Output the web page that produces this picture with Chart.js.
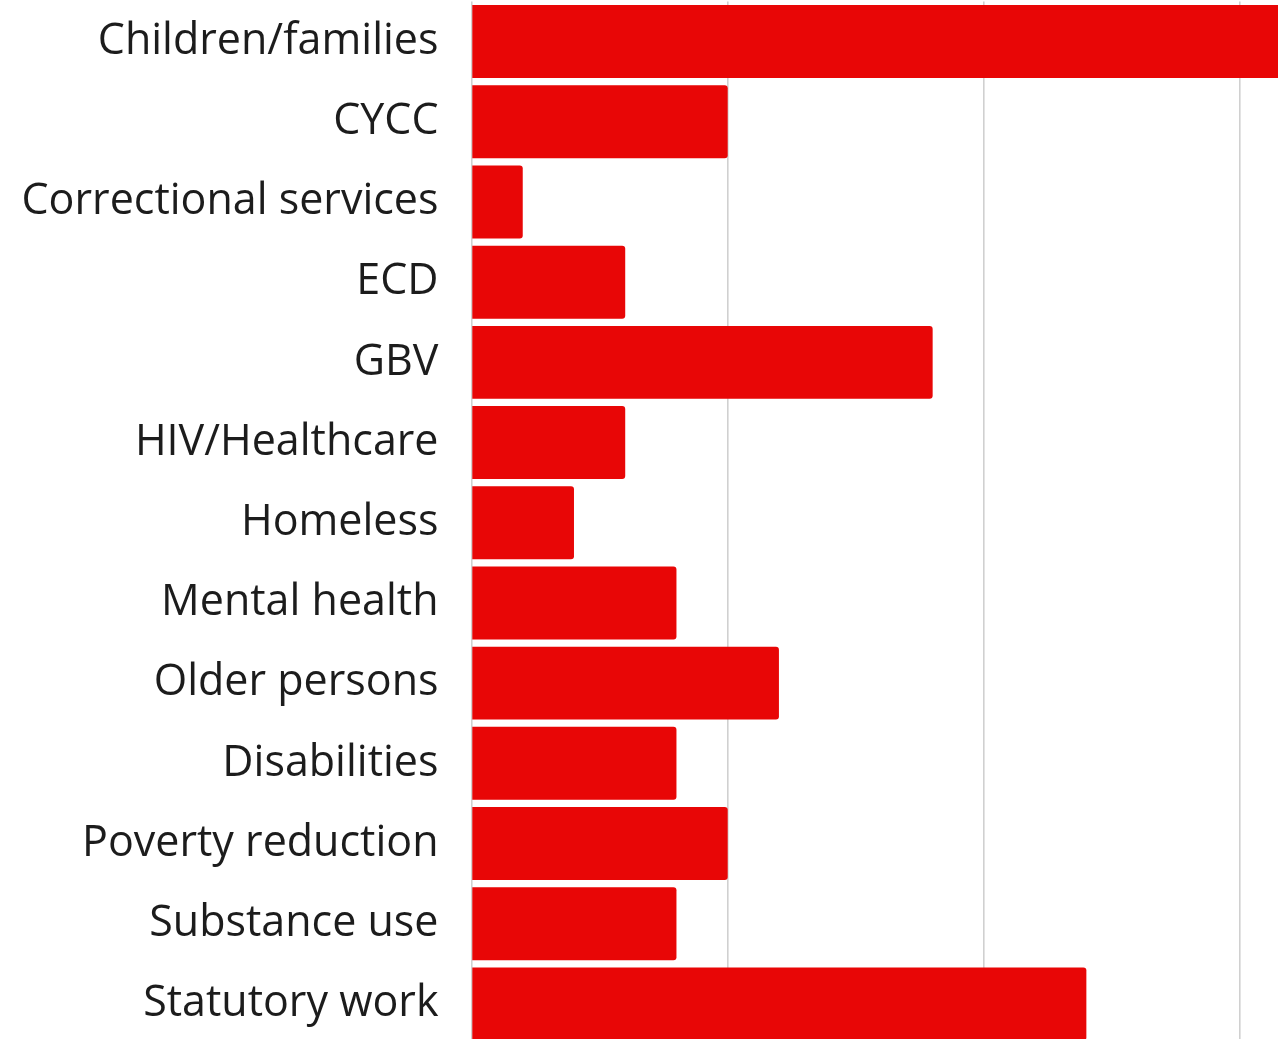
<!DOCTYPE html>
<html>
<head>
<meta charset="utf-8">
<script src="https://cdn.jsdelivr.net/npm/chart.js@4"></script>
<style>
  html, body { margin: 0; padding: 0; background: #ffffff; overflow: hidden; }
  #wrap { width: 1278px; height: 1046px; }
</style>
</head>
<body>
<div id="wrap"><canvas id="chart" width="1278" height="1046"></canvas></div>
<script>
// Service areas and number of responses per area
const categories = [
  'Children/families', 'CYCC', 'Correctional services', 'ECD', 'GBV',
  'HIV/Healthcare', 'Homeless', 'Mental health', 'Older persons',
  'Disabilities', 'Poverty reduction', 'Substance use', 'Statutory work'
];
const counts = [16, 5, 1, 3, 9, 3, 2, 4, 6, 4, 5, 4, 12];
const xTicks = [0, 5, 10, 15];

const BAR_RED = '#E80606';
const GRID_GREY = '#d0d0d0';

new Chart(document.getElementById('chart'), {
  type: 'bar',
  data: {
    labels: categories,
    datasets: [{
      data: counts,
      backgroundColor: BAR_RED,
      borderWidth: 0,
      borderRadius: 3,
      categoryPercentage: 1,
      barPercentage: 0.91
    }]
  },
  options: {
    indexAxis: 'y',
    responsive: false,
    animation: false,
    layout: { padding: { top: 1.5, bottom: 2, left: 0, right: 0 } },
    plugins: { legend: { display: false }, tooltip: { enabled: false } },
    scales: {
      x: {
        min: 0,
        max: 15.74,
        afterBuildTicks: (scale) => {
          scale.ticks = xTicks.map(v => ({ value: v }));
        },
        afterFit: (scale) => {
          scale.height = 0;
          scale.paddingLeft = 0; scale.paddingRight = 0;
          scale.paddingTop = 0; scale.paddingBottom = 0;
        },
        ticks: { display: false },
        border: { display: false },
        grid: { color: GRID_GREY, lineWidth: 1.6, drawTicks: false }
      },
      y: {
        afterFit: (scale) => {
          scale.width = 471.5;
          scale.paddingTop = 0; scale.paddingBottom = 0;
          scale.paddingLeft = 0; scale.paddingRight = 0;
        },
        border: { display: false },
        grid: { display: false, drawTicks: false },
        ticks: {
          padding: 33,
          color: '#1c1c1c',
          font: { family: '"Open Sans", sans-serif', size: 43 }
        }
      }
    }
  }
});
</script>
</body>
</html>
